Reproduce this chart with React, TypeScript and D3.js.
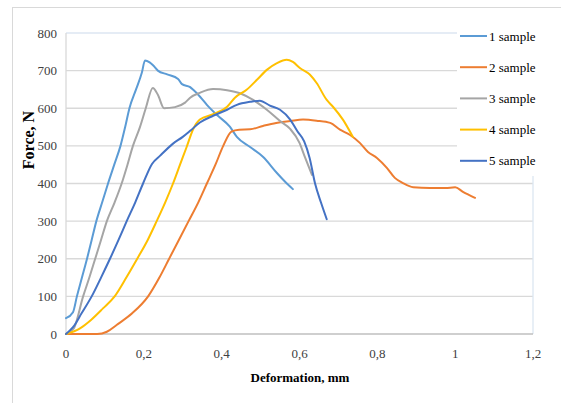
import React from "react";
import * as d3 from "d3";

const seriesNames = ["1 sample", "2 sample", "3 sample", "4 sample", "5 sample"];
const seriesColors = ["#5B9BD5", "#ED7D31", "#A5A5A5", "#FFC000", "#4472C4"];

const sample1: [number, number][] = [
  [0, 42], [0.018, 58], [0.028, 100], [0.041, 150], [0.054, 200], [0.066, 250], [0.078, 300],
  [0.093, 350], [0.108, 400], [0.124, 450], [0.14, 500], [0.152, 550], [0.163, 600],
  [0.18, 650], [0.195, 695], [0.203, 727], [0.215, 722], [0.225, 713], [0.236, 700],
  [0.26, 690], [0.288, 678], [0.298, 664], [0.319, 656], [0.327, 649], [0.345, 630],
  [0.362, 609], [0.388, 582], [0.421, 551], [0.439, 524], [0.473, 497], [0.506, 471],
  [0.542, 428], [0.56, 408], [0.583, 385],
];

const sample2: [number, number][] = [
  [0, 0], [0.08, 0], [0.105, 6], [0.13, 24], [0.17, 55], [0.211, 100], [0.24, 150],
  [0.265, 200], [0.29, 250], [0.315, 300], [0.34, 350], [0.362, 400],
  [0.384, 450], [0.404, 500], [0.425, 538], [0.445, 543], [0.473, 544], [0.506, 553],
  [0.54, 561], [0.576, 566], [0.609, 570], [0.644, 567], [0.679, 561], [0.704, 543],
  [0.73, 529], [0.755, 508], [0.776, 484], [0.799, 468], [0.825, 441], [0.845, 415],
  [0.866, 401], [0.892, 390], [0.935, 388], [0.975, 388], [1.0, 390], [1.02, 378], [1.051, 362],
];

const sample3: [number, number][] = [
  [0, 0], [0.02, 15], [0.044, 100], [0.06, 150], [0.075, 200], [0.09, 250], [0.105, 300],
  [0.125, 350], [0.143, 400], [0.158, 450], [0.172, 500], [0.19, 550], [0.205, 600],
  [0.223, 654], [0.236, 636], [0.252, 600], [0.28, 603], [0.306, 615], [0.319, 628],
  [0.344, 641], [0.378, 651], [0.414, 648], [0.447, 640], [0.481, 622], [0.516, 596],
  [0.55, 566], [0.576, 545], [0.6, 508], [0.614, 470], [0.632, 423],
];

const sample4: [number, number][] = [
  [0, 0], [0.036, 15], [0.065, 38], [0.095, 68], [0.125, 100], [0.155, 150], [0.183, 200],
  [0.21, 250], [0.233, 300], [0.255, 350], [0.275, 400], [0.293, 450], [0.31, 497], [0.327, 545],
  [0.344, 570], [0.378, 584], [0.414, 604], [0.434, 628], [0.464, 649], [0.49, 675],
  [0.516, 702], [0.542, 720], [0.567, 729], [0.583, 723], [0.601, 707], [0.627, 689],
  [0.644, 667], [0.67, 622], [0.686, 604], [0.712, 569], [0.737, 524],
];

const sample5: [number, number][] = [
  [0, 0], [0.018, 18], [0.04, 55], [0.066, 100], [0.09, 150], [0.113, 200], [0.135, 250],
  [0.156, 300], [0.178, 350], [0.198, 400], [0.221, 452], [0.242, 474], [0.275, 506],
  [0.3, 524], [0.319, 540], [0.344, 562], [0.378, 580], [0.414, 596], [0.439, 609],
  [0.473, 617], [0.498, 620], [0.524, 607], [0.55, 596], [0.576, 570], [0.595, 538],
  [0.612, 512], [0.626, 468], [0.64, 400], [0.655, 350], [0.67, 305],
];

const allSeries = [sample1, sample2, sample3, sample4, sample5];

const yTicks = [0, 100, 200, 300, 400, 500, 600, 700, 800];
const xTicks = [0, 0.2, 0.4, 0.6, 0.8, 1, 1.2];
const xTickLabels = ["0", "0,2", "0,4", "0,6", "0,8", "1", "1,2"];

export default function App() {
  const W = 561;
  const H = 403;
  const x = d3.scaleLinear().domain([0, 1.2]).range([66, 533]);
  const y = d3.scaleLinear().domain([0, 800]).range([334, 33]);
  const line = d3
    .line<[number, number]>()
    .x((d) => x(d[0]))
    .y((d) => y(d[1]))
    .curve(d3.curveMonotoneX);

  const legendLeft = 457;
  const legendBottom = 176;
  const font = "'Liberation Serif', 'Times New Roman', serif";

  return (
    <svg
      width={W}
      height={H}
      style={{ position: "absolute", left: 0, top: 0, background: "#fff" }}
      fontFamily={font}
    >
      <rect x={0} y={0} width={W} height={H} fill="#fff" />
      <rect x={12.5} y={7.5} width={560} height={420} fill="none" stroke="#d9d9d9" />
      {yTicks.map((t) =>
        t === 0 ? null : (
          <line
            key={"g" + t}
            x1={x(0)}
            x2={y(t) < legendBottom ? legendLeft : x(1.2)}
            y1={y(t)}
            y2={y(t)}
            stroke={t === 800 ? "#dce6f2" : "#d9d9d9"}
            strokeWidth={1.3}
          />
        )
      )}
      <line x1={x(1.2)} x2={x(1.2)} y1={legendBottom} y2={y(0)} stroke="#dce6f2" strokeWidth={1.3} />
      <line x1={x(0)} x2={x(0)} y1={y(800)} y2={y(0)} stroke="#d9d9d9" strokeWidth={1.3} />
      <line x1={x(0)} x2={x(1.2)} y1={y(0)} y2={y(0)} stroke="#bfbfbf" strokeWidth={1.3} />
      {yTicks.map((t) => (
        <text key={"yt" + t} x={57} y={y(t)} dy="0.35em" textAnchor="end" fontSize={13} fill="#404040">
          {t}
        </text>
      ))}
      {xTicks.map((t, i) => (
        <text key={"xt" + t} x={x(t)} y={353} dy="0.35em" textAnchor="middle" fontSize={13} fill="#404040">
          {xTickLabels[i]}
        </text>
      ))}
      {allSeries.map((s, i) => (
        <path
          key={"s" + i}
          d={line(s) || ""}
          fill="none"
          stroke={seriesColors[i]}
          strokeWidth={2}
          strokeLinejoin="round"
          strokeLinecap="round"
        />
      ))}
      {seriesNames.map((n, i) => {
        const ly = 36 + i * 31.2;
        return (
          <g key={"l" + i}>
            <line x1={460} x2={487} y1={ly} y2={ly} stroke={seriesColors[i]} strokeWidth={2} />
            <text x={489} y={ly} dy="0.35em" fontSize={13} fill="#000">
              {n}
            </text>
          </g>
        );
      })}
      <text
        transform={`translate(28,140) rotate(-90)`}
        textAnchor="middle"
        dy="0.35em"
        fontSize={16}
        fontWeight="bold"
        fill="#000"
      >
        Force, N
      </text>
      <text x={300} y={377} textAnchor="middle" dy="0.35em" fontSize={13} fontWeight="bold" fill="#000">
        Deformation, mm
      </text>
    </svg>
  );
}
